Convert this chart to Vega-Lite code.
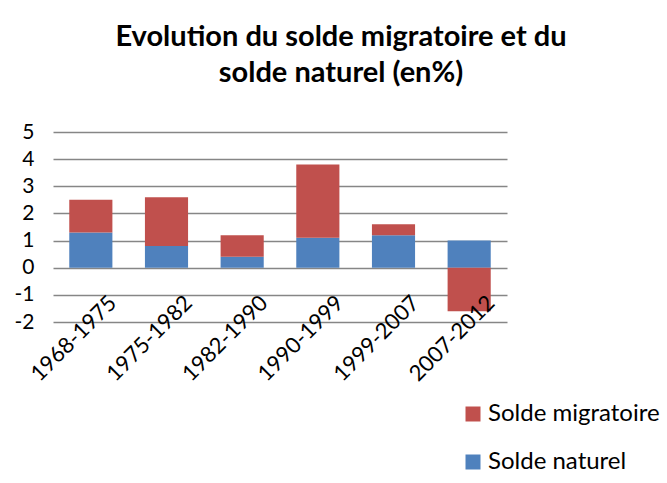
{
  "$schema": "https://vega.github.io/schema/vega-lite/v6.json",
  "width": 454,
  "height": 190,
  "autosize": {"type": "none"},
  "padding": {"left": 53, "top": 132, "right": 160, "bottom": 161},
  "background": "white",
  "title": {
    "text": ["Evolution du solde migratoire et du", "solde naturel (en%)"],
    "font": "Lato",
    "fontSize": 29,
    "fontWeight": "bold",
    "color": "black",
    "anchor": "middle",
    "dx": 61,
    "offset": 33,
    "lineHeight": 36
  },
  "data": {
    "values": [
      {"periode": "1968-1975", "serie": "Solde naturel", "valeur": 1.3, "ord": 1},
      {"periode": "1968-1975", "serie": "Solde migratoire", "valeur": 1.2, "ord": 2},
      {"periode": "1975-1982", "serie": "Solde naturel", "valeur": 0.8, "ord": 1},
      {"periode": "1975-1982", "serie": "Solde migratoire", "valeur": 1.8, "ord": 2},
      {"periode": "1982-1990", "serie": "Solde naturel", "valeur": 0.4, "ord": 1},
      {"periode": "1982-1990", "serie": "Solde migratoire", "valeur": 0.8, "ord": 2},
      {"periode": "1990-1999", "serie": "Solde naturel", "valeur": 1.1, "ord": 1},
      {"periode": "1990-1999", "serie": "Solde migratoire", "valeur": 2.7, "ord": 2},
      {"periode": "1999-2007", "serie": "Solde naturel", "valeur": 1.2, "ord": 1},
      {"periode": "1999-2007", "serie": "Solde migratoire", "valeur": 0.4, "ord": 2},
      {"periode": "2007-2012", "serie": "Solde naturel", "valeur": 1.0, "ord": 1},
      {"periode": "2007-2012", "serie": "Solde migratoire", "valeur": -1.6, "ord": 2}
    ]
  },
  "mark": {"type": "bar"},
  "encoding": {
    "x": {
      "field": "periode",
      "type": "nominal",
      "sort": null,
      "scale": {"paddingInner": 0.43, "paddingOuter": 0.215},
      "axis": {
        "title": null,
        "labelAngle": -45,
        "labelAlign": "right",
        "labelBaseline": "middle",
        "labelFont": "Lato",
        "labelFontSize": 22,
        "labelColor": "black",
        "labelPadding": 31,
        "labelOffset": 22,
        "offset": -54,
        "domain": false,
        "ticks": false,
        "grid": false,
        "zindex": 1
      }
    },
    "y": {
      "field": "valeur",
      "type": "quantitative",
      "stack": "zero",
      "scale": {"domain": [-2, 5], "nice": false},
      "axis": {
        "title": null,
        "values": [-2, -1, 0, 1, 2, 3, 4, 5],
        "labelExpr": "datum.value < 0 ? '-' + abs(datum.value) : '' + datum.value",
        "labelFont": "Lato",
        "labelFontSize": 21,
        "labelColor": "black",
        "labelPadding": 19,
        "domain": false,
        "ticks": false,
        "grid": true,
        "gridColor": "#868686",
        "gridWidth": 1.5
      }
    },
    "color": {
      "field": "serie",
      "type": "nominal",
      "scale": {"domain": ["Solde migratoire", "Solde naturel"], "range": ["#C0504D", "#4F81BD"]},
      "legend": {
        "title": null,
        "orient": "none",
        "legendX": 408,
        "legendY": 270,
        "padding": 0,
        "symbolType": "square",
        "symbolSize": 225,
        "symbolStrokeWidth": 0,
        "labelFont": "Lato",
        "labelFontSize": 24,
        "labelColor": "black",
        "labelOffset": 3,
        "labelLimit": 0,
        "rowPadding": 24
      }
    },
    "order": {"field": "ord", "type": "quantitative"}
  },
  "config": {"view": {"stroke": null}}
}
